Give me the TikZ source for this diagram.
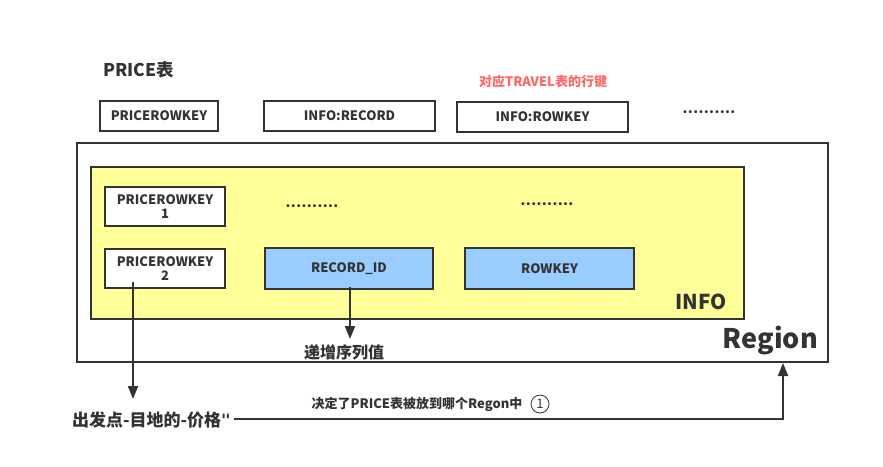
\documentclass[tikz,border=0pt]{standalone}
\usepackage{fontspec}
\setmainfont{Noto Sans CJK SC}
\newfontfamily\tickfont{DejaVu Sans}
\usetikzlibrary{arrows.meta}
\definecolor{ink}{HTML}{333333}
\definecolor{famfill}{HTML}{FFFF99}
\definecolor{keyfill}{HTML}{99CCFF}
\definecolor{note}{HTML}{FF6666}
\newcommand{\fs}[1]{\fontsize{#1}{#1}\selectfont\bfseries}
\newcommand{\dotrow}{\fs{14}.\kern0.4pt.\kern0.4pt.\kern0.4pt.\kern0.4pt.\kern0.4pt.\kern0.4pt.\kern0.4pt.\kern0.4pt.\kern0.4pt.}
\tikzset{
  box/.style={draw=ink, line width=2pt, fill=white, text=ink, align=center, inner sep=0pt},
  lbl/.style={text=ink, inner sep=0pt},
  arr/.style={draw=ink, line width=2pt, -{Triangle[length=13pt,width=10pt]}},
}
\begin{document}
\begin{tikzpicture}[x=1pt,y=-1pt]
\useasboundingbox (0,0) rectangle (883,466);
% title and column headers
\node[lbl, anchor=west] (title) at (103,70) {\fs{17.5}PRICE表};
\node[box, minimum width=118, minimum height=30] (hkey) at (159,116) {\fs{13}PRICEROWKEY};
\node[box, minimum width=171, minimum height=30] (hrec) at (349.5,116) {\fs{13}INFO:RECORD};
\node[box, minimum width=171, minimum height=30] (hrow) at (542.5,116.5) {\fs{13}INFO:ROWKEY};
\node[lbl] (hdots) at (709,112) {\dotrow};
\node[text=note, inner sep=0pt] (rownote) at (543,82) {\fs{13}对应TRAVEL表的行键};
% region and column family
\node[draw=ink, line width=2pt, minimum width=751, minimum height=219, anchor=north west, inner sep=0pt] (region) at (76,142) {};
\node[draw=ink, line width=2pt, fill=famfill, minimum width=653, minimum height=152, anchor=north west, inner sep=0pt] (info) at (90,166) {};
\node[lbl, anchor=south east] (infolbl) at (727,310) {\fs{20.5}INFO};
\node[lbl, anchor=south east] (reglbl) at (818,355) {\fs{27}Region};
% cells
\node[box, minimum width=120, minimum height=39] (k1) at (165,206.5) {\fs{13}PRICEROWKEY\\[2pt]\fs{13}1};
\node[box, minimum width=120, minimum height=39] (k2) at (165,268.5) {\fs{13}PRICEROWKEY\\[2pt]\fs{13}2};
\node[box, fill=keyfill, minimum width=168, minimum height=41] (rid) at (349,268.5) {\fs{13}RECORD\_ID};
\node[box, fill=keyfill, minimum width=169, minimum height=41] (rk) at (549.5,268.5) {\fs{13}ROWKEY};
\node[lbl] (d1) at (312,206) {\dotrow};
\node[lbl] (d2) at (547,204) {\dotrow};
% annotations
\node[lbl] (seq) at (344,352) {\fs{16}递增序列值};
\node[lbl, anchor=west] (origin) at (72,420) {\fs{17}出发点-目地的-价格{\tickfont\char39\kern-1pt\char39}};
\node[lbl] (decide) at (417,404) {\fs{13}决定了PRICE表被放到哪个Regon中};
\node[draw=ink, line width=0.8pt, circle, minimum size=18, inner sep=0pt, text=ink] (one) at (540,404) {\fontsize{13}{13}\selectfont 1};
% connectors
\coordinate (k2src) at (133,282);
\coordinate (k2dst) at (133,399);
\coordinate (ridsrc) at (350,287);
\coordinate (riddst) at (350,339);
\coordinate (bend) at (783,419);
\coordinate (regin) at (783,363);
\draw[arr] (origin.east |- bend) ++(3,0) -- (bend) -- (regin);
\draw[arr] (k2src) -- (k2dst);
\draw[arr] (ridsrc) -- (riddst);
\end{tikzpicture}
\end{document}
